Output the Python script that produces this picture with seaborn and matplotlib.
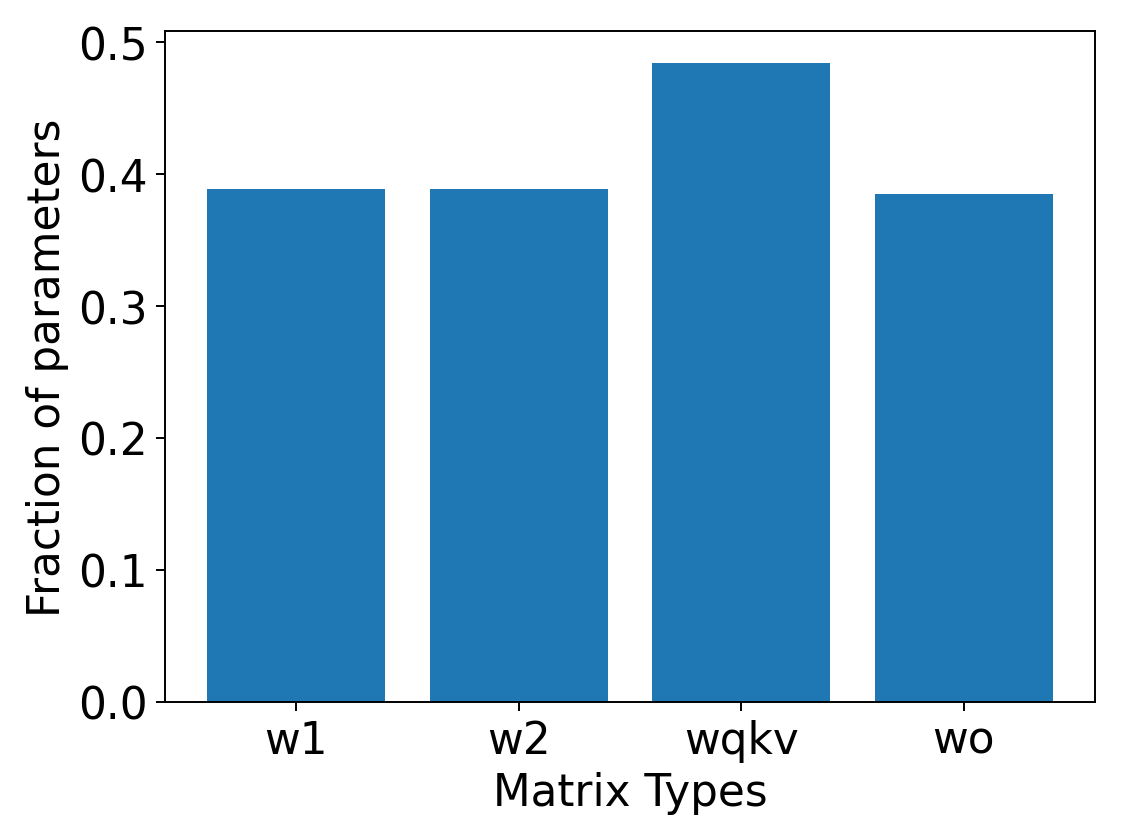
import matplotlib
matplotlib.use("Agg")
import matplotlib.pyplot as plt
import seaborn as sns
import pandas as pd

categories = ["w1", "w2", "wqkv", "wo"]
values = [0.3886, 0.3886, 0.4843, 0.3850]

plt.rcParams["font.size"] = 18
fig, ax = plt.subplots(figsize=(6.4, 4.8), dpi=175.16)
df = pd.DataFrame({"Matrix Types": categories, "Fraction of parameters": values})
sns.barplot(data=df, x="Matrix Types", y="Fraction of parameters", color="#1f77b4",
            saturation=1, width=0.8, ax=ax, errorbar=None)
ax.set_xlim(-0.59, 3.59)
ax.set_ylim(0, 0.4843 * 1.05)
ax.set_xlabel("Matrix Types")
ax.set_ylabel("Fraction of parameters")
fig.subplots_adjust(left=0.1472, right=0.9768, bottom=0.1643, top=0.9619)
fig.savefig("out.png", dpi=175.16)
